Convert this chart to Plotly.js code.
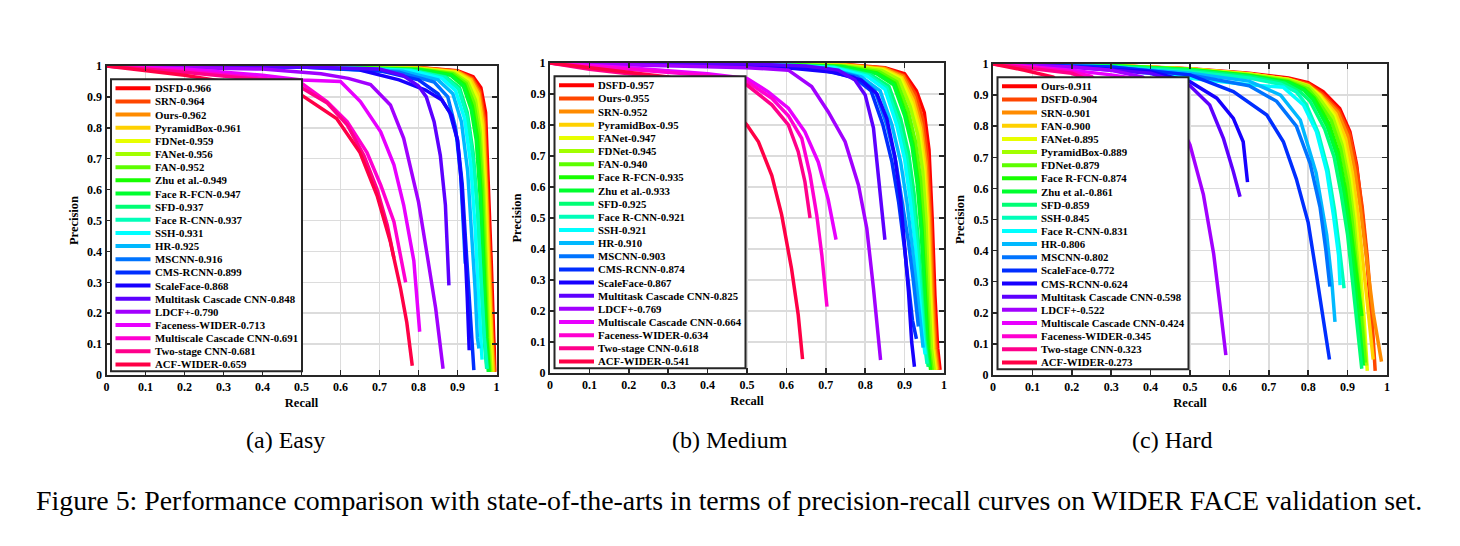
<!DOCTYPE html>
<html>
<head>
<meta charset="utf-8">
<script src="https://cdn.plot.ly/plotly-3.0.1.min.js"></script>
<style>html,body{margin:0;padding:0;background:#fff;}#chart{width:1460px;height:546px;}</style>
</head>
<body>
<div id="chart"></div>
<script>
// ---------------- DATA ----------------
const tickValues = [0,0.1,0.2,0.3,0.4,0.5,0.6,0.7,0.8,0.9,1];
const tickLabels = ['0','0.1','0.2','0.3','0.4','0.5','0.6','0.7','0.8','0.9','1'];

const seriesColors = ['#ff0000','#ff4600','#ff8b00','#ffd100','#e8ff00','#a2ff00','#5dff00','#17ff00',
  '#00ff2e','#00ff74','#00ffb9','#00ffff','#00b9ff','#0074ff','#002eff','#1700ff','#5d00ff','#a200ff',
  '#e800ff','#ff00d1','#ff008b','#ff0046'];

const panelCaptions = ['(a) Easy','(b) Medium','(c) Hard'];
const figureCaption = 'Figure 5: Performance comparison with state-of-the-arts in terms of precision-recall curves on WIDER FACE validation set.';

// ---- Easy ----
const easyMethods = ['DSFD','SRN','Ours','PyramidBox','FDNet','FANet','FAN','Zhu et al.','Face R-FCN','SFD','Face R-CNN',
  'SSH','HR','MSCNN','CMS-RCNN','ScaleFace','Multitask Cascade CNN','LDCF+','Faceness-WIDER','Multiscale Cascade CNN','Two-stage CNN','ACF-WIDER'];
const easyAP = ['0.966','0.964','0.962','0.961','0.959','0.956','0.952','0.949','0.947','0.937','0.937',
  '0.931','0.925','0.916','0.899','0.868','0.848','0.790','0.713','0.691','0.681','0.659'];
const easyRecall = [
  [0,0.5,0.8,0.9,0.94,0.96,0.972,0.98,0.987,0.993,0.997],
  [0,0.5,0.8,0.9,0.938,0.957,0.969,0.977,0.984,0.99,0.995],
  [0,0.5,0.8,0.9,0.936,0.955,0.967,0.975,0.982,0.988,0.993],
  [0,0.5,0.8,0.898,0.934,0.953,0.965,0.973,0.98,0.986,0.991],
  [0,0.5,0.8,0.895,0.93,0.95,0.962,0.97,0.977,0.983,0.988],
  [0,0.5,0.8,0.892,0.926,0.946,0.958,0.967,0.974,0.98,0.986],
  [0,0.5,0.8,0.888,0.922,0.942,0.955,0.964,0.971,0.977,0.983],
  [0,0.5,0.8,0.885,0.918,0.938,0.951,0.96,0.968,0.975,0.981],
  [0,0.5,0.8,0.882,0.915,0.935,0.948,0.958,0.966,0.973,0.979],
  [0,0.5,0.78,0.87,0.905,0.925,0.94,0.951,0.96,0.968,0.975],
  [0,0.5,0.78,0.868,0.903,0.924,0.94,0.952,0.961,0.969,0.976],
  [0,0.5,0.78,0.86,0.895,0.918,0.934,0.945,0.953,0.96,0.963],
  [0,0.5,0.76,0.85,0.888,0.91,0.926,0.937,0.945,0.951,0.955],
  [0,0.5,0.75,0.84,0.875,0.895,0.908,0.915,0.92],
  [0,0.5,0.7,0.8,0.85,0.88,0.9,0.912,0.92,0.928,0.936,0.942],
  [0.65,0.75,0.818,0.86,0.885,0.9,0.91,0.918,0.925,0.93],
  [0,0.5,0.7,0.76,0.8,0.82,0.84,0.856,0.869,0.878],
  [0,0.4,0.55,0.62,0.677,0.728,0.762,0.8,0.822,0.844,0.863],
  [0,0.2,0.4,0.5,0.6,0.651,0.703,0.737,0.762,0.788,0.803],
  [0,0.2,0.4,0.5,0.566,0.617,0.668,0.703,0.737,0.767],
  [0,0.2,0.4,0.5,0.566,0.617,0.66,0.694,0.72,0.737],
  [0,0.1,0.2,0.3,0.4,0.5,0.59,0.65,0.694,0.728,0.754,0.77,0.784]
];
const easyPrecision = [
  [1,0.999,0.995,0.985,0.965,0.93,0.85,0.6,0.35,0.12,0.01],
  [1,0.999,0.994,0.983,0.96,0.92,0.83,0.6,0.35,0.12,0.01],
  [1,0.999,0.994,0.982,0.957,0.915,0.82,0.6,0.35,0.12,0.01],
  [1,0.999,0.993,0.981,0.955,0.91,0.81,0.6,0.35,0.12,0.01],
  [1,0.999,0.992,0.979,0.952,0.9,0.8,0.6,0.35,0.12,0.01],
  [1,0.999,0.991,0.977,0.948,0.89,0.79,0.6,0.35,0.12,0.01],
  [1,0.999,0.99,0.975,0.944,0.88,0.78,0.6,0.35,0.12,0.01],
  [1,0.998,0.989,0.972,0.94,0.87,0.77,0.6,0.35,0.12,0.01],
  [1,0.998,0.988,0.97,0.935,0.86,0.76,0.58,0.33,0.12,0.01],
  [1,0.998,0.987,0.965,0.93,0.85,0.72,0.55,0.32,0.12,0.02],
  [1,0.998,0.986,0.963,0.925,0.84,0.7,0.52,0.3,0.12,0.02],
  [1,0.998,0.985,0.96,0.92,0.83,0.68,0.48,0.28,0.1,0.05],
  [1,0.998,0.983,0.955,0.91,0.82,0.66,0.46,0.28,0.12,0.086],
  [1,0.997,0.98,0.948,0.9,0.8,0.65,0.5,0.36],
  [1,0.997,0.985,0.955,0.91,0.85,0.76,0.62,0.45,0.28,0.1,0.016],
  [0.987,0.955,0.922,0.89,0.84,0.76,0.62,0.45,0.25,0.08],
  [1,0.997,0.99,0.97,0.935,0.9,0.82,0.71,0.55,0.29],
  [1,0.99,0.975,0.96,0.94,0.874,0.766,0.56,0.39,0.216,0.02],
  [1,0.99,0.97,0.955,0.95,0.885,0.787,0.68,0.55,0.37,0.14],
  [1,0.985,0.96,0.944,0.884,0.82,0.72,0.615,0.496,0.30],
  [1,0.98,0.955,0.93,0.88,0.81,0.71,0.60,0.485,0.378],
  [1,0.985,0.97,0.95,0.93,0.906,0.83,0.72,0.58,0.43,0.28,0.17,0.03]
];

// ---- Medium ----
const mediumMethods = ['DSFD','Ours','SRN','PyramidBox','FANet','FDNet','FAN','Face R-FCN','Zhu et al.','SFD','Face R-CNN',
  'SSH','HR','MSCNN','CMS-RCNN','ScaleFace','Multitask Cascade CNN','LDCF+','Multiscale Cascade CNN','Faceness-WIDER','Two-stage CNN','ACF-WIDER'];
const mediumAP = ['0.957','0.955','0.952','0.95','0.947','0.945','0.940','0.935','0.933','0.925','0.921',
  '0.921','0.910','0.903','0.874','0.867','0.825','0.769','0.664','0.634','0.618','0.541'];
const mediumRecall = [
  [0,0.5,0.75,0.85,0.9,0.93,0.95,0.962,0.97,0.977,0.984,0.99],
  [0,0.5,0.75,0.85,0.898,0.927,0.946,0.958,0.966,0.973,0.98,0.986],
  [0,0.5,0.75,0.85,0.896,0.924,0.943,0.955,0.963,0.97,0.977,0.984],
  [0,0.5,0.75,0.848,0.893,0.921,0.94,0.952,0.96,0.967,0.974,0.981],
  [0,0.5,0.75,0.845,0.89,0.918,0.937,0.949,0.957,0.964,0.971,0.978],
  [0,0.5,0.75,0.842,0.886,0.914,0.933,0.946,0.954,0.961,0.968,0.975],
  [0,0.5,0.74,0.835,0.88,0.908,0.927,0.94,0.949,0.956,0.963,0.97],
  [0,0.5,0.74,0.83,0.875,0.902,0.921,0.934,0.944,0.952,0.96,0.966],
  [0,0.5,0.74,0.828,0.872,0.9,0.919,0.932,0.942,0.95,0.957,0.963],
  [0,0.5,0.72,0.815,0.86,0.89,0.91,0.924,0.934,0.943,0.952,0.96],
  [0,0.5,0.72,0.81,0.855,0.885,0.905,0.92,0.932,0.942,0.95,0.957],
  [0,0.5,0.72,0.805,0.85,0.88,0.9,0.915,0.928,0.938,0.946,0.952],
  [0,0.5,0.7,0.79,0.838,0.868,0.89,0.906,0.92,0.932,0.941,0.947],
  [0,0.5,0.7,0.78,0.825,0.855,0.878,0.895,0.91,0.922,0.93,0.935],
  [0,0.5,0.68,0.77,0.815,0.845,0.868,0.885,0.9,0.912,0.92,0.93],
  [0,0.4,0.6,0.72,0.79,0.83,0.855,0.875,0.89,0.9,0.91,0.918,0.925],
  [0,0.5,0.65,0.732,0.774,0.8,0.821,0.833,0.845,0.85],
  [0,0.4,0.5,0.605,0.664,0.706,0.749,0.783,0.804,0.821,0.839],
  [0,0.2,0.4,0.5,0.554,0.605,0.647,0.681,0.706,0.726],
  [0,0.2,0.4,0.5,0.563,0.605,0.639,0.66,0.677,0.69,0.703],
  [0,0.1,0.2,0.3,0.4,0.5,0.563,0.605,0.63,0.647,0.66],
  [0,0.1,0.2,0.3,0.4,0.45,0.5,0.529,0.563,0.588,0.613,0.63,0.641]
];
const mediumPrecision = [
  [1,0.999,0.995,0.985,0.965,0.91,0.84,0.72,0.5,0.25,0.08,0.01],
  [1,0.999,0.994,0.983,0.96,0.9,0.82,0.7,0.5,0.25,0.08,0.01],
  [1,0.999,0.994,0.982,0.957,0.89,0.8,0.68,0.5,0.25,0.08,0.01],
  [1,0.999,0.993,0.98,0.953,0.88,0.79,0.67,0.5,0.25,0.08,0.01],
  [1,0.999,0.992,0.978,0.95,0.87,0.78,0.66,0.5,0.25,0.08,0.01],
  [1,0.999,0.991,0.976,0.946,0.86,0.77,0.65,0.5,0.25,0.08,0.01],
  [1,0.998,0.99,0.972,0.94,0.85,0.75,0.63,0.48,0.25,0.08,0.01],
  [1,0.998,0.989,0.968,0.935,0.84,0.74,0.62,0.47,0.25,0.08,0.01],
  [1,0.998,0.988,0.966,0.93,0.83,0.73,0.61,0.46,0.25,0.08,0.02],
  [1,0.998,0.987,0.962,0.925,0.82,0.71,0.58,0.44,0.25,0.1,0.02],
  [1,0.998,0.986,0.96,0.92,0.81,0.7,0.56,0.42,0.25,0.1,0.03],
  [1,0.998,0.985,0.957,0.915,0.8,0.69,0.55,0.4,0.24,0.12,0.06],
  [1,0.997,0.984,0.955,0.91,0.8,0.68,0.55,0.4,0.25,0.14,0.082],
  [1,0.997,0.982,0.955,0.91,0.8,0.68,0.55,0.42,0.3,0.2,0.15],
  [1,0.996,0.98,0.955,0.91,0.8,0.68,0.55,0.4,0.26,0.17,0.11],
  [1,0.995,0.985,0.97,0.945,0.9,0.82,0.7,0.56,0.42,0.26,0.1,0.02],
  [1,0.997,0.99,0.977,0.945,0.897,0.79,0.65,0.5,0.43],
  [1,0.99,0.985,0.977,0.924,0.843,0.746,0.606,0.467,0.273,0.042],
  [1,0.985,0.965,0.95,0.907,0.854,0.778,0.68,0.56,0.43],
  [1,0.98,0.96,0.94,0.886,0.83,0.757,0.64,0.51,0.38,0.214],
  [1,0.98,0.965,0.95,0.94,0.929,0.865,0.8,0.714,0.617,0.5],
  [1,0.985,0.97,0.955,0.92,0.87,0.8,0.746,0.637,0.51,0.337,0.188,0.045]
];

// ---- Hard ----
const hardMethods = ['Ours','DSFD','SRN','FAN','FANet','PyramidBox','FDNet','Face R-FCN','Zhu et al.','SFD','SSH',
  'Face R-CNN','HR','MSCNN','ScaleFace','CMS-RCNN','Multitask Cascade CNN','LDCF+','Multiscale Cascade CNN','Faceness-WIDER','Two-stage CNN','ACF-WIDER'];
const hardAP = ['0.911','0.904','0.901','0.900','0.895','0.889','0.879','0.874','0.861','0.859','0.845',
  '0.831','0.806','0.802','0.772','0.624','0.598','0.522','0.424','0.345','0.323','0.273'];
const hardRecall = [
  [0,0.3,0.5,0.65,0.75,0.8,0.838,0.88,0.906,0.923,0.935,0.948,0.958,0.966],
  [0,0.3,0.5,0.65,0.75,0.8,0.835,0.878,0.905,0.923,0.937,0.95,0.96,0.97],
  [0,0.3,0.5,0.65,0.75,0.8,0.833,0.875,0.9,0.918,0.932,0.948,0.965,0.986],
  [0,0.3,0.5,0.65,0.75,0.8,0.83,0.87,0.895,0.912,0.926,0.94,0.953,0.965],
  [0,0.3,0.5,0.65,0.75,0.8,0.828,0.866,0.89,0.907,0.92,0.932,0.942,0.95],
  [0,0.3,0.5,0.65,0.75,0.8,0.825,0.862,0.886,0.903,0.916,0.928,0.938,0.948],
  [0,0.3,0.5,0.65,0.75,0.8,0.82,0.858,0.882,0.899,0.912,0.925,0.936,0.945],
  [0,0.3,0.5,0.65,0.75,0.79,0.815,0.852,0.876,0.894,0.908,0.922,0.936],
  [0,0.3,0.5,0.65,0.75,0.79,0.812,0.848,0.872,0.89,0.905,0.918,0.93,0.94],
  [0,0.3,0.5,0.65,0.74,0.78,0.805,0.842,0.866,0.884,0.9,0.913,0.925,0.936],
  [0,0.3,0.5,0.65,0.73,0.77,0.795,0.825,0.85,0.867,0.88,0.891],
  [0,0.3,0.5,0.652,0.737,0.788,0.821,0.847,0.864,0.877,0.881],
  [0,0.3,0.5,0.65,0.73,0.78,0.82,0.847,0.86,0.868],
  [0,0.3,0.5,0.65,0.72,0.77,0.805,0.83,0.845,0.855],
  [0,0.3,0.5,0.61,0.695,0.737,0.77,0.8,0.82,0.838,0.854],
  [0,0.2,0.4,0.5,0.568,0.61,0.635,0.646],
  [0,0.2,0.4,0.5,0.55,0.585,0.61,0.627],
  [0,0.2,0.3,0.38,0.45,0.5,0.534,0.56,0.576,0.591],
  [0,0.1,0.2,0.3,0.38,0.42,0.45],
  [0,0.1,0.2,0.25,0.3,0.33,0.36],
  [0,0.1,0.2,0.23,0.27,0.3,0.33],
  [0,0.08,0.153,0.2,0.25,0.28,0.3]
];
const hardPrecision = [
  [1,0.995,0.985,0.97,0.955,0.94,0.911,0.857,0.782,0.675,0.547,0.386,0.225,0.06],
  [1,0.995,0.984,0.968,0.952,0.936,0.905,0.85,0.775,0.665,0.54,0.38,0.22,0.013],
  [1,0.995,0.984,0.968,0.95,0.932,0.9,0.845,0.77,0.66,0.54,0.38,0.2,0.043],
  [1,0.995,0.984,0.968,0.95,0.93,0.9,0.84,0.76,0.65,0.52,0.36,0.2,0.05],
  [1,0.995,0.984,0.968,0.95,0.93,0.9,0.835,0.75,0.64,0.51,0.35,0.18,0.013],
  [1,0.995,0.983,0.966,0.948,0.928,0.895,0.83,0.74,0.63,0.5,0.34,0.18,0.03],
  [1,0.994,0.982,0.964,0.945,0.92,0.89,0.82,0.73,0.62,0.49,0.33,0.17,0.04],
  [1,0.994,0.982,0.963,0.942,0.92,0.89,0.81,0.72,0.6,0.47,0.32,0.19],
  [1,0.994,0.981,0.962,0.94,0.915,0.885,0.8,0.71,0.59,0.46,0.31,0.16,0.03],
  [1,0.993,0.98,0.96,0.938,0.91,0.88,0.79,0.7,0.58,0.45,0.3,0.15,0.02],
  [1,0.99,0.975,0.955,0.935,0.91,0.87,0.78,0.66,0.53,0.4,0.279],
  [1,0.985,0.954,0.933,0.925,0.868,0.782,0.655,0.514,0.386,0.289],
  [1,0.99,0.97,0.945,0.9,0.82,0.65,0.45,0.3,0.171],
  [1,0.99,0.965,0.93,0.88,0.8,0.68,0.54,0.4,0.284],
  [1,0.99,0.965,0.911,0.836,0.75,0.63,0.49,0.33,0.19,0.05],
  [1,0.99,0.975,0.943,0.89,0.825,0.75,0.62],
  [1,0.99,0.97,0.93,0.868,0.76,0.654,0.573],
  [1,0.99,0.98,0.958,0.87,0.74,0.58,0.39,0.225,0.064],
  [1,0.99,0.98,0.965,0.95,0.8,0.4],
  [1,0.99,0.975,0.96,0.9,0.6,0.2],
  [1,0.985,0.97,0.955,0.85,0.55,0.2],
  [1,0.98,0.958,0.9,0.7,0.4,0.1]
];

// ---------------- LAYOUT / DRAWING ----------------
const W = 1460, H = 546;
const px = v => v / W;
const py = v => 1 - v / H;
const SERIF = 'Liberation Serif, Times New Roman, serif';
const FRAME = '#262626';

// axes boxes in pixels: [left, right, top, bottom]
const boxes = [[106.5, 496.5, 66, 375], [550, 944, 63, 373], [993, 1387, 64, 375]];
const panels = [
  {methods: easyMethods, ap: easyAP, rec: easyRecall, prec: easyPrecision},
  {methods: mediumMethods, ap: mediumAP, rec: mediumRecall, prec: mediumPrecision},
  {methods: hardMethods, ap: hardAP, rec: hardRecall, prec: hardPrecision}
];
const captionX = [285.5, 730, 1172];

const traces = [];
const shapes = [];
const annotations = [];
const layout = {
  width: W, height: H,
  margin: {l: 0, r: 0, t: 0, b: 0},
  paper_bgcolor: '#fff', plot_bgcolor: '#fff',
  showlegend: false,
  font: {family: SERIF, color: '#000'}
};

panels.forEach((p, k) => {
  const s = k === 0 ? '' : String(k + 1);
  const [L, R, T, B] = boxes[k];
  const axCommon = {
    range: [0, 1], tickvals: tickValues, ticktext: tickLabels,
    ticks: 'inside', ticklen: 5, tickwidth: 1.5, tickcolor: FRAME,
    showline: true, linecolor: FRAME, linewidth: 2, mirror: 'ticks',
    showgrid: true, gridcolor: '#dcdcdc', gridwidth: 1.5, zeroline: false,
    tickfont: {family: SERIF, size: 12, color: '#000', weight: 700},
    fixedrange: true
  };
  layout['xaxis' + s] = Object.assign({}, axCommon, {
    domain: [px(L), px(R)], anchor: 'y' + s,
    title: {text: 'Recall', font: {family: SERIF, size: 12.5, color: '#000', weight: 700}, standoff: 5}
  });
  layout['yaxis' + s] = Object.assign({}, axCommon, {
    domain: [py(B), py(T)], anchor: 'x' + s,
    title: {text: 'Precision', font: {family: SERIF, size: 12.5, color: '#000', weight: 700}, standoff: 6}
  });

  p.methods.forEach((m, i) => {
    traces.push({
      x: p.rec[i], y: p.prec[i], xaxis: 'x' + s, yaxis: 'y' + s,
      type: 'scatter', mode: 'lines', name: m + '-' + p.ap[i],
      line: {color: seriesColors[i], width: 3.5}, hoverinfo: 'skip'
    });
  });

  // manual legend box
  const lgL = L + 4.5, lgT = T + 13.3, lgR = lgL + 191, lgB = lgT + 292;
  shapes.push({type: 'rect', xref: 'paper', yref: 'paper', x0: px(lgL), x1: px(lgR), y0: py(lgB), y1: py(lgT),
    line: {color: FRAME, width: 2}, fillcolor: '#fff', layer: 'above'});
  p.methods.forEach((m, i) => {
    const yy = lgT + 9 + i * 13.15;
    shapes.push({type: 'line', xref: 'paper', yref: 'paper', x0: px(lgL + 4.5), x1: px(lgL + 39.5), y0: py(yy), y1: py(yy),
      line: {color: seriesColors[i], width: 4}, layer: 'above'});
    annotations.push({xref: 'paper', yref: 'paper', x: px(lgL + 42.5), y: py(yy), xanchor: 'left', yanchor: 'middle',
      text: m + '-' + p.ap[i], showarrow: false, borderpad: 0,
      font: {family: SERIF, size: 10.8, color: '#000', weight: 700}});
  });

  annotations.push({xref: 'paper', yref: 'paper', x: px(captionX[k]), y: py(440), xanchor: 'center', yanchor: 'middle',
    text: panelCaptions[k], showarrow: false, font: {family: SERIF, size: 24, color: '#000'}});
});

annotations.push({xref: 'paper', yref: 'paper', x: px(729), y: py(500), xanchor: 'center', yanchor: 'middle',
  text: figureCaption, showarrow: false, font: {family: SERIF, size: 27.85, color: '#000'}});

layout.shapes = shapes;
layout.annotations = annotations;

Plotly.newPlot('chart', traces, layout, {displayModeBar: false, staticPlot: true});
</script>
</body>
</html>
